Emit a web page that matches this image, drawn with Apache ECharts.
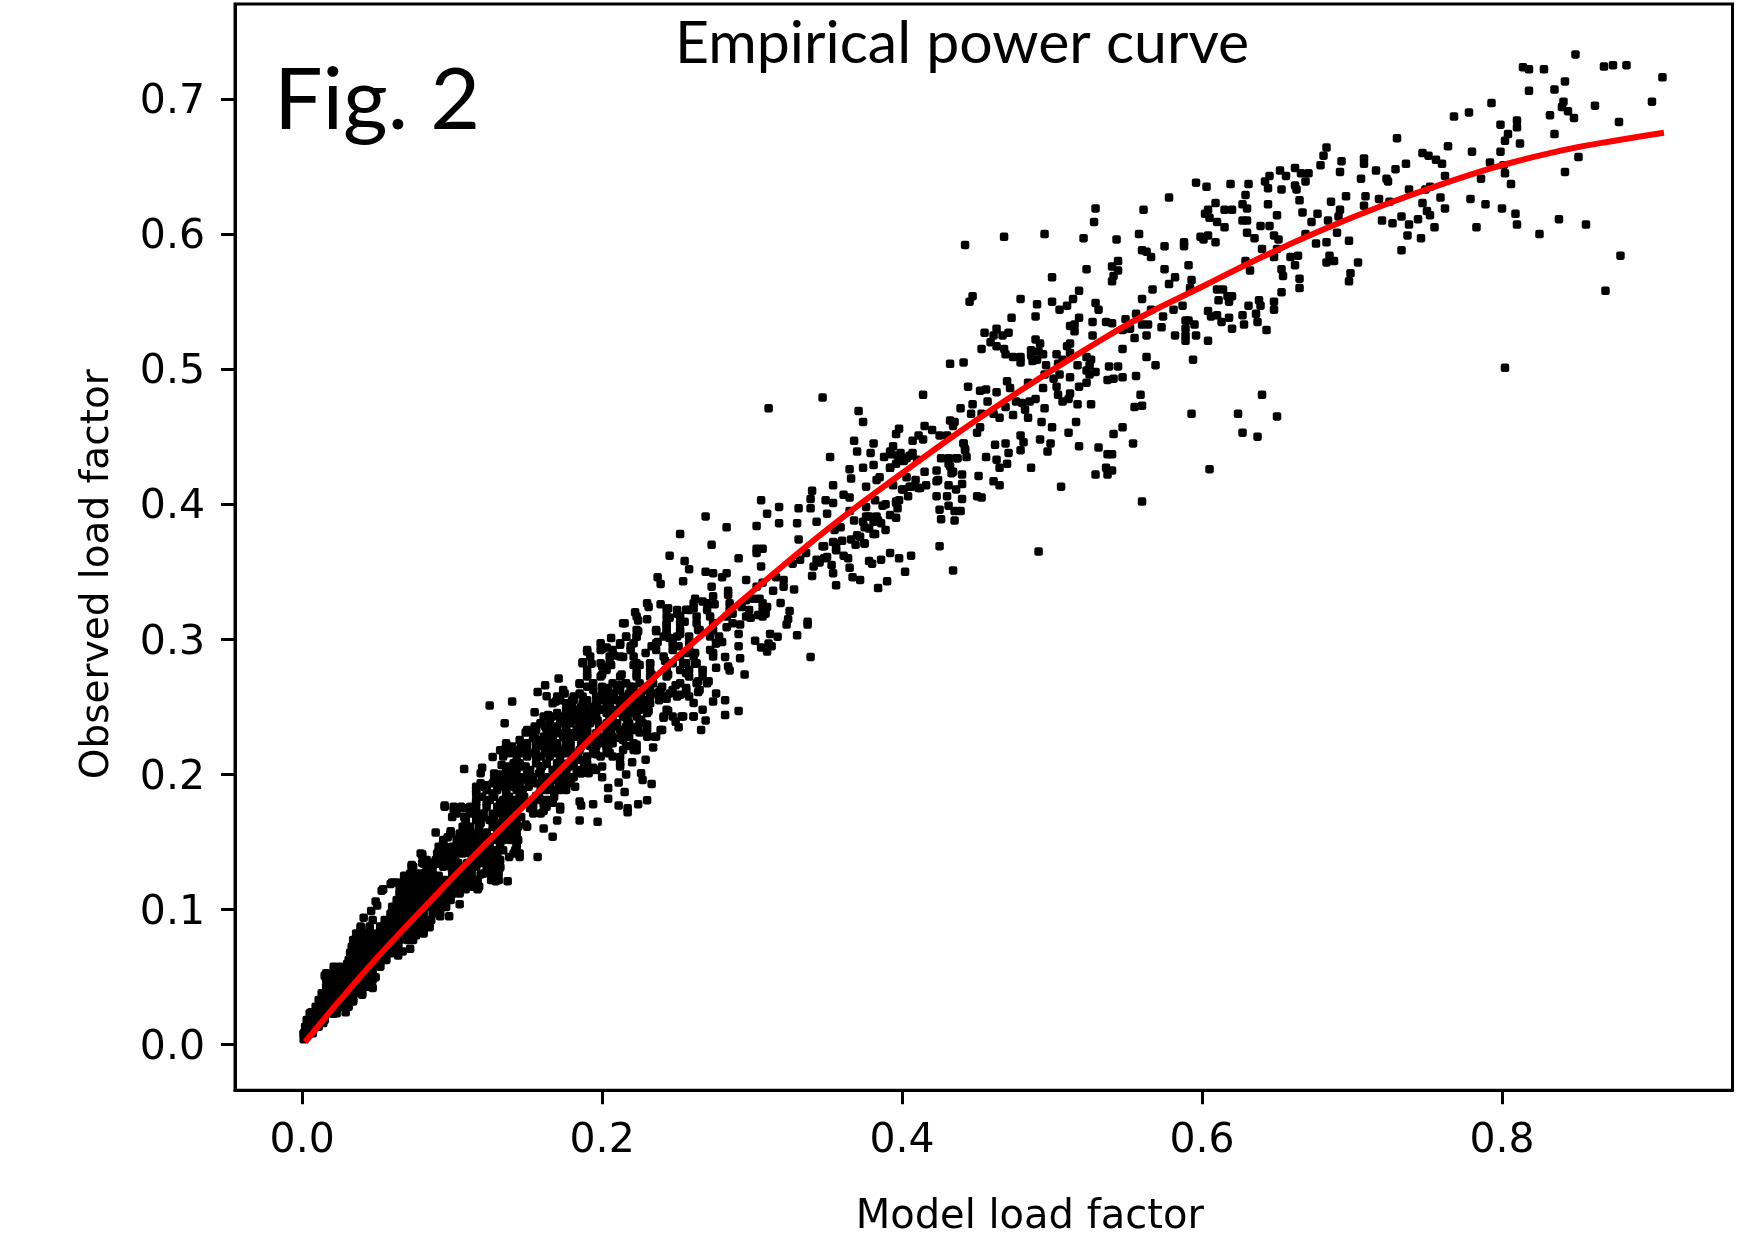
<!DOCTYPE html>
<html>
<head>
<meta charset="utf-8">
<title>Empirical power curve</title>
<script src="https://cdn.jsdelivr.net/npm/echarts@6/dist/echarts.min.js"></script>
<style>
html, body { margin: 0; padding: 0; background: #fff; }
#chart { width: 1749px; height: 1257px; }
</style>
</head>
<body>
<div id="chart"></div>
<script>
// tick labels
const xTicks = [0, 0.2, 0.4, 0.6, 0.8];
const yTicks = [0, 0.1, 0.2, 0.3, 0.4, 0.5, 0.6, 0.7];

// fitted curve
const curveModel = [0.002, 0.04, 0.08, 0.12, 0.16, 0.2, 0.24, 0.28, 0.32, 0.36, 0.4, 0.44, 0.48, 0.52, 0.56, 0.6, 0.64, 0.68, 0.72, 0.76, 0.8, 0.84, 0.88, 0.908];
const curveObserved = [0.002, 0.052, 0.1, 0.146, 0.19, 0.235, 0.277, 0.316, 0.354, 0.39, 0.423, 0.455, 0.485, 0.513, 0.539, 0.561, 0.583, 0.603, 0.621, 0.637, 0.651, 0.662, 0.67, 0.675];

// [model, observed], top right part of the cloud
const pointsHigh = [
[.849,.733],[.814,.7235],[.818,.722],[.828,.722],[.868,.724],[.874,.725],[.883,.725],[.907,.716],[.842,.713],[.835,.707],[.818,.706],[.9,.698],[.841,.698],[.862,.695],[.84,.694],[.844,.691],[.848,.686],[.832,.688],[.793,.697],[.778,.69],[.768,.687],[.81,.684],[.81,.679],[.799,.681],[.878,.683],[.835,.674],[.804,.674],[.802,.669],[.812,.667],[.73,.671],[.764,.665],[.78,.661],[.799,.661],[.851,.657],[.792,.653],[.801,.651],[.802,.645],[.842,.646],[.806,.637],[.786,.641],[.747,.66],[.751,.658],[.756,.655],[.76,.652],[.762,.643],[.736,.652],[.729,.648],[.724,.639],[.723,.641],[.738,.633],[.749,.633],[.752,.635],[.759,.627],[.779,.626],[.789,.622],[.8,.619],[.809,.615],[.81,.607],[.838,.611],[.856,.607],[.825,.6],[.783,.605],[.762,.619],[.755,.605],[.746,.597],[.733,.588],[.737,.599],[.744,.611],[.738,.607],[.733,.613],[.727,.608],[.72,.61],[.747,.623],[.75,.617],[.752,.614],[.725,.624],[.718,.626],[.709,.628],[.708,.621],[.696,.628],[.686,.624],[.692,.618],[.691,.613],[.684,.61],[.677,.615],[.673,.609],[.667,.616],[.665,.625],[.663,.633],[.662,.636],[.653,.633],[.644,.634],[.642,.639],[.645,.643],[.652,.647],[.656,.643],[.662,.649],[.666,.645],[.671,.645],[.669,.639],[.679,.651],[.681,.658],[.683,.664],[.693,.654],[.692,.646],[.708,.656],[.708,.652],[.716,.647],[.706,.641],[.631,.637],[.619,.637],[.603,.635],[.596,.638],[.629,.629],[.578,.627],[.561,.618],[.627,.622],[.63,.619],[.609,.623],[.615,.618],[.62,.618],[.604,.618],[.602,.615],[.605,.612],[.61,.609],[.615,.605],[.627,.61],[.63,.61],[.644,.622],[.65,.614],[.639,.606],[.645,.606],[.648,.599],[.651,.596],[.63,.601],[.635,.597],[.64,.589],[.65,.589],[.669,.6],[.676,.593],[.683,.594],[.698,.595],[.69,.601],[.648,.583],[.659,.583],[.664,.584],[.629,.58],[.632,.573],[.653,.574],[.662,.577],[.685,.584],[.688,.58],[.683,.579],[.704,.579],[.699,.571],[.698,.565],[.665,.567],[.665,.56],[.654,.569],[.653,.557],[.609,.594],[.604,.599],[.599,.598],[.601,.596],[.588,.594],[.588,.591],[.575,.591],[.558,.6],[.543,.596],[.56,.588],[.563,.587],[.566,.583],[.544,.58],[.54,.576],[.544,.573],[.541,.569],[.54,.565],[.575,.574],[.591,.577],[.582,.568],[.578,.563],[.593,.566],[.592,.56],[.567,.559],[.56,.552],[.61,.559],[.614,.559],[.611,.551],[.617,.554],[.62,.554],[.618,.55],[.638,.551],[.631,.547],[.639,.547],[.648,.55],[.648,.544],[.587,.547],[.581,.544],[.566,.544],[.556,.541],[.574,.539],[.549,.537],[.536,.535],[.54,.534],[.564,.533],[.56,.533],[.589,.536],[.591,.536],[.595,.533],[.589,.53],[.573,.531],[.547,.529],[.552,.53],[.604,.543],[.606,.539],[.61,.54],[.613,.535],[.618,.538],[.62,.53],[.627,.54],[.628,.533],[.636,.541],[.637,.535],[.643,.529],[.563,.525],[.555,.523],[.582,.525],[.589,.525],[.589,.521],[.596,.525],[.604,.521],[.547,.515],[.563,.509],[.569,.503],[.594,.507],[.538,.502],[.544,.502],[.556,.495],[.547,.494],[.541,.493],[.537,.492],[.559,.481],[.64,.481],[.802,.501],[.869,.558],[.879,.584]
];

// middle part of the cloud
const pointsMid = [
[.442,.592],[.468,.598],[.495,.6],[.521,.597],[.529,.619],[.528,.609],[.523,.574],[.5,.568],[.518,.558],[.479,.552],[.49,.548],[.5,.55],[.514,.552],[.51,.547],[.505,.544],[.529,.549],[.531,.544],[.447,.554],[.445,.55],[.473,.538],[.489,.539],[.518,.538],[.527,.535],[.515,.533],[.512,.532],[.515,.528],[.455,.527],[.463,.53],[.471,.527],[.461,.525],[.467,.525],[.459,.52],[.453,.515],[.463,.517],[.468,.515],[.469,.511],[.474,.509],[.479,.509],[.479,.505],[.489,.522],[.492,.519],[.486,.514],[.491,.513],[.494,.511],[.486,.51],[.487,.506],[.49,.507],[.503,.511],[.51,.517],[.512,.519],[.512,.512],[.527,.525],[.496,.503],[.432,.504],[.441,.505],[.517,.503],[.507,.507],[.504,.504],[.523,.509],[.526,.507],[.525,.503],[.523,.499],[.529,.498],[.525,.496],[.523,.49],[.518,.487],[.512,.494],[.505,.496],[.501,.493],[.495,.496],[.484,.49],[.494,.486],[.47,.491],[.472,.486],[.444,.487],[.452,.484],[.456,.485],[.463,.483],[.414,.481],[.347,.479],[.504,.481],[.512,.482],[.507,.476],[.511,.478],[.503,.487],[.517,.474],[.526,.474],[.555,.472],[.56,.473],[.593,.467],[.624,.467],[.65,.465],[.627,.453],[.637,.45],[.605,.426],[.56,.402],[.547,.457],[.541,.452],[.516,.461],[.5,.457],[.493,.461],[.495,.471],[.484,.464],[.474,.466],[.465,.464],[.489,.478],[.485,.476],[.48,.475],[.476,.476],[.482,.47],[.469,.472],[.461,.467],[.457,.476],[.447,.474],[.439,.471],[.446,.467],[.453,.467],[.432,.462],[.435,.461],[.434,.458],[.452,.457],[.45,.453],[.415,.458],[.42,.455],[.411,.451],[.407,.447],[.414,.448],[.425,.451],[.43,.451],[.398,.456],[.396,.452],[.371,.469],[.374,.461],[.368,.447],[.381,.445],[.37,.439],[.379,.438],[.394,.443],[.388,.435],[.393,.437],[.399,.438],[.403,.434],[.407,.438],[.396,.43],[.392,.427],[.374,.427],[.381,.429],[.352,.435],[.365,.426],[.366,.419],[.385,.42],[.383,.418],[.354,.414],[.34,.41],[.376,.413],[.394,.414],[.403,.42],[.409,.418],[.415,.424],[.423,.425],[.431,.434],[.426,.434],[.436,.434],[.443,.435],[.441,.445],[.442,.441],[.462,.444],[.469,.445],[.479,.451],[.481,.446],[.492,.448],[.499,.445],[.511,.453],[.518,.443],[.531,.442],[.497,.439],[.479,.44],[.471,.438],[.456,.435],[.463,.433],[.47,.43],[.465,.427],[.486,.427],[.537,.437],[.54,.437],[.554,.445],[.536,.427],[.54,.425],[.537,.422],[.529,.422],[.506,.413],[.451,.421],[.461,.417],[.465,.414],[.45,.406],[.453,.405],[.44,.422],[.44,.415],[.431,.414],[.436,.411],[.433,.423],[.431,.43],[.423,.417],[.416,.414],[.412,.412],[.405,.413],[.4,.411],[.404,.406],[.423,.406],[.43,.406],[.44,.404],[.431,.399],[.425,.396],[.439,.395],[.435,.395],[.426,.389],[.435,.388],[.425,.369],[.491,.365],[.434,.351],[.406,.362],[.398,.36],[.392,.364],[.386,.359],[.378,.358],[.38,.356],[.402,.35],[.39,.343],[.384,.338],[.372,.344],[.367,.346],[.356,.34],[.365,.353],[.364,.36],[.361,.362],[.354,.349],[.353,.355],[.348,.36],[.341,.354],[.34,.347],[.345,.357],[.356,.367],[.36,.373],[.354,.372],[.348,.369],[.336,.364],[.372,.376],[.375,.371],[.369,.37],[.366,.374],[.382,.378],[.389,.381],[.378,.382],[.386,.386],[.383,.391],[.378,.391],[.374,.387],[.368,.388],[.359,.383],[.355,.381],[.343,.387],[.35,.393],[.365,.395],[.376,.398],[.382,.403],[.389,.4],[.396,.402],[.392,.392],[.396,.39],[.397,.397],[.339,.397],[.349,.403],[.354,.401],[.339,.404],[.361,.407],[.365,.405],
[.392,.439],[.397,.436],[.401,.432],[.392,.427],[.405,.436],[.41,.433],[.441,.445],[.442,.44],[.437,.434],[.432,.428],[.434,.424],[.424,.418],[.376,.391],[.381,.387],[.375,.383],[.384,.388],[.381,.378],[.37,.377],[.375,.371],[.347,.369],[.356,.371],[.35,.361],[.356,.366],[.343,.359],[.396,.401],[.398,.403],[.387,.399],[.406,.413],[.411,.412],[.401,.411]
];

// lower middle part
const pointsLowMid = [
[.311,.471],[.269,.391],[.252,.378],[.283,.383],[.303,.384],[.31,.393],[.318,.398],[.306,.403],[.331,.397],[.33,.386],[.318,.386],[.273,.37],[.245,.362],[.255,.358],[.258,.352],[.291,.36],[.303,.367],[.307,.367],[.303,.364],[.306,.354],[.331,.374],[.269,.35],[.274,.349],[.283,.349],[.28,.346],[.296,.344],[.254,.343],[.237,.346],[.239,.341],[.273,.339],[.284,.336],[.284,.333],[.303,.339],[.307,.342],[.327,.356],[.332,.359],[.328,.337],[.321,.344],[.321,.339],[.314,.336],[.316,.346],[.231,.324],[.239,.326],[.222,.32],[.244,.323],[.25,.319],[.256,.322],[.262,.33],[.267,.328],[.274,.332],[.275,.326],[.261,.323],[.245,.316],[.243,.311],[.255,.313],[.23,.315],[.224,.314],[.215,.312],[.224,.306],[.236,.306],[.243,.306],[.252,.304],[.264,.307],[.216,.302],[.206,.301],[.223,.302],[.212,.296],[.2,.293],[.203,.294],[.19,.291],[.219,.295],[.233,.295],[.237,.298],[.251,.295],[.245,.301],[.229,.29],[.214,.287],[.208,.288],[.187,.283],[.193,.282],[.2,.28],[.206,.281],[.221,.281],[.225,.281],[.232,.282],[.242,.284],[.254,.282],[.262,.29],[.257,.29],[.262,.282],[.256,.275],[.267,.277],[.276,.279],[.2,.274],[.19,.274],[.213,.274],[.223,.274],[.233,.274],[.244,.274],[.185,.267],[.171,.271],[.194,.264],[.204,.264],[.212,.266],[.219,.265],[.232,.264],[.238,.261],[.249,.266],[.256,.264],[.264,.269],[.271,.269],[.264,.261],[.276,.26],[.175,.26],[.181,.255],[.169,.254],[.189,.254],[.198,.256],[.206,.255],[.215,.256],[.224,.256],[.243,.256],[.252,.259],[.256,.26],[.261,.253],[.274,.254],[.282,.255],[.267,.248],[.188,.249],[.197,.249],[.205,.248],[.22,.249],[.231,.247],[.244,.247],[.291,.247],[.282,.244],[.261,.243],[.269,.24],[.253,.243],[.241,.242],[.249,.239],[.179,.244],[.172,.243],[.188,.242],[.197,.24],[.205,.242],[.216,.242],[.225,.24],[.23,.237],[.251,.235],[.266,.233],[.176,.237],[.185,.237],[.219,.235],[.319,.327],[.325,.321],[.324,.315],[.323,.311],[.337,.313],[.337,.311],[.33,.303],[.317,.302],[.312,.304],[.311,.297],[.313,.295],[.306,.294],[.31,.291],[.302,.299],[.339,.287],[.291,.295],[.292,.286],[.282,.287],[.284,.28],[.295,.274],[.285,.277],[.276,.297],[.274,.29],[.272,.304],[.28,.298],[.291,.304],[.283,.309],[.292,.311],[.287,.319],[.286,.323],[.299,.316],[.304,.318],[.309,.319],[.31,.324],[.305,.33],[.301,.33],[.296,.329],[.293,.324]
];

// lower band, single points that can be told apart
const pointsLow = [
[.125,.251],[.14,.254],[.135,.238],[.162,.266],[.157,.261],[.163,.258],[.155,.246],[.149,.231],[.164,.244],[.159,.238],[.163,.234],[.154,.227],[.136,.221],[.132,.218],[.127,.213],[.149,.222],[.161,.221],[.156,.213],[.144,.216],[.108,.204],[.12,.205],[.119,.201],[.133,.207],[.139,.203],[.147,.206],[.159,.206],[.163,.208],[.132,.2],[.141,.198],[.15,.199],[.116,.191],[.123,.192],[.132,.192],[.141,.192],[.152,.194],[.161,.195],[.116,.186],[.127,.186],[.136,.186],[.145,.184],[.156,.184],[.165,.189],[.095,.177],[.101,.174],[.108,.175],[.116,.179],[.123,.179],[.132,.179],[.141,.176],[.152,.175],[.161,.173],[.117,.171],[.127,.171],[.137,.169],[.109,.165],[.119,.164],[.13,.164],[.141,.161],[.149,.163],[.089,.157],[.099,.158],[.105,.154],[.112,.159],[.123,.157],[.134,.157],[.161,.16],[.167,.154],[.094,.149],[.103,.147],[.114,.15],[.125,.149],[.139,.152],[.143,.148],[.091,.143],[.101,.139],[.11,.142],[.121,.142],[.13,.144],[.08,.141],[.138,.139],[.145,.139],[.157,.139],[.142,.144],[.131,.137],[.073,.133],[.081,.134],[.09,.134],[.1,.134],[.116,.133],[.124,.133],[.132,.131],[.068,.125],[.074,.126],[.082,.127],[.091,.125],[.119,.126],[.126,.125],[.137,.121],[.129,.121],[.06,.12],[.069,.118],[.076,.119],[.085,.118],[.111,.12],[.117,.115],[.109,.115],[.054,.115],[.065,.113],[.074,.112],[.081,.112],[.1,.113],[.094,.117],
[.17,.166],[.185,.166],[.197,.165],[.185,.18],[.186,.177],[.194,.178],[.204,.182],[.204,.19],[.211,.177],[.217,.175],[.217,.172],[.224,.178],[.23,.181],[.233,.193],[.215,.187],[.211,.194],[.227,.196],[.226,.201],[.216,.2],[.22,.209],[.229,.211],[.223,.218],[.223,.222],[.234,.22],[.212,.206],[.212,.213],[.205,.216],[.2,.198],[.194,.205],[.191,.201],[.182,.191],[.174,.19],[.181,.198],[.172,.174],[.167,.179],[.161,.178],[.174,.208],[.185,.211],[.196,.215],[.192,.221],[.203,.221],[.17,.221],[.216,.221],[.179,.228],[.19,.231],[.203,.228],[.212,.227],[.225,.231],[.235,.228],[.24,.233],
[.041,.094],[.049,.106],[.046,.099],[.05,.103],[.053,.114],[.059,.119],[.063,.12],[.068,.124],[.073,.132],[.08,.14],[.105,.104],[.098,.095],[.092,.095],[.085,.087],[.072,.071],[.067,.069],[.064,.066],[.059,.096],[.066,.113],[.072,.107],[.079,.119],[.088,.107],[.096,.102],[.079,.097],[.068,.097],[.075,.11],[.093,.112],[.039,.086],[.045,.086],[.054,.087],[.063,.09],[.072,.09],[.081,.085],[.035,.077],[.043,.077],[.052,.077],[.061,.08],[.07,.08],[.076,.081],[.032,.068],[.041,.07],[.056,.07],[.064,.073],[.03,.06],[.039,.06],[.052,.058],[.056,.063],[.015,.051],[.022,.056],[.029,.055],[.037,.053],[.049,.05],[.019,.044],[.026,.047],[.034,.045],[.047,.042],[.015,.038],[.023,.038],[.031,.038],[.04,.037],[.012,.032],[.021,.031],[.029,.031],[.034,.032],[.029,.024],[.006,.024],[.013,.024],[.021,.023],[.004,.018],[.009,.017],[.014,.016],[.002,.013],[.007,.011],[.001,.008],[.003,.006],[.001,.004]
];

const denseRows = [
[.0084,[.001,.004,.007]],
[.0133,[.002,.006,.011]],
[.0183,[.003,.007,.012,.015]],
[.0232,[.005,.01,.014,.018,.023]],
[.0281,[.009,.013,.017,.022,.026,.031]],
[.0331,[.011,.015,.02,.024,.029,.034]],
[.038,[.013,.017,.022,.026,.031,.035,.04]],
[.0429,[.016,.021,.025,.03,.034,.039,.044,.046]],
[.0479,[.016,.021,.025,.03,.034,.039,.043,.047]],
[.0528,[.016,.021,.025,.03,.034,.039,.043,.047]],
[.0577,[.021,.025,.03,.034,.039,.043,.047,.052]],
[.0627,[.031,.035,.04,.044,.049,.053,.056]],
[.0676,[.032,.036,.041,.045,.05,.054,.059,.063]],
[.0725,[.033,.037,.042,.046,.051,.055,.06,.064]],
[.0775,[.034,.039,.043,.047,.052,.056,.061,.065,.07,.074]],
[.0824,[.036,.041,.045,.05,.054,.059,.063,.068,.072,.076,.081]],
[.0874,[.039,.045,.052,.056,.061,.065,.07,.074,.079,.083]],
[.0923,[.047,.055,.06,.064,.069,.073,.078,.082,.086]],
[.0972,[.059,.063,.068,.072,.076,.081,.087,.092]],
[.1022,[.06,.064,.069,.073,.078,.082,.086,.091,.095]],
[.1071,[.063,.068,.072,.076,.081,.085,.09,.094,.099]],
[.112,[.065,.07,.074,.079,.083,.088,.092,.096,.101,.105]],
[.117,[.065,.07,.074,.079,.083,.088,.092,.096,.101,.105,.11,.114,.118]],
[.1219,[.068,.073,.078,.082,.086,.091,.095,.1,.104,.109,.113,.117,.126,.131]],
[.1268,[.072,.078,.082,.087,.1,.104,.109,.113,.121,.126,.131]],
[.1318,[.074,.083,.087,.094,.099,.103,.107,.112,.116,.123,.127,.132]],
[.1345,[.08,.086,.092,.104,.11,.12,.128]],
[.1367,[.083,.089,.093,.097,.102,.114,.118,.123,.127,.132]],
[.1416,[.079,.09,.094,.099,.103,.107,.112,.116,.121,.125,.13,.141,.145]],
[.144,[.092,.1,.106,.112,.12,.128,.134]],
[.1466,[.091,.095,.1,.104,.109,.113,.118,.123,.132,.143]],
[.1515,[.094,.103,.107,.112,.116,.121,.125,.13,.134,.139,.144]],
[.1535,[.097,.108,.118,.126,.136]],
[.1564,[.099,.105,.11,.114,.118,.123,.13,.134,.139,.143]],
[.1614,[.107,.112,.118,.127,.132,.136,.141,.144,.15]],
[.1663,[.109,.116,.125,.134,.139,.143]],
[.1685,[.1,.108,.12,.128,.136,.146]],
[.1712,[.103,.112,.116,.121,.13,.134,.139,.143,.154,.159]],
[.1762,[.095,.101,.106,.112,.116,.123,.13,.134,.139,.145,.154,.163,.172]],
[.1811,[.116,.125,.134,.139,.143,.147,.154,.159,.163,.167]],
[.1835,[.12,.128,.138,.148,.158,.168]],
[.1886,[.116,.123,.13,.136,.143,.147,.159,.163,.167,.172,.176]],
[.191,[.121,.131,.141,.151,.161,.171]],
[.1935,[.119,.127,.136,.145,.156,.165,.174,.179]],
[.196,[.128,.14,.15,.16,.17,.177]],
[.198,[.132,.136,.145,.154,.163,.172,.179]],
[.2008,[.128,.14,.15,.158,.168,.176,.186]],
[.2034,[.136,.143,.152,.159,.167,.176,.183,.192,.196]],
[.206,[.137,.149,.16,.17,.178,.188,.2]],
[.2083,[.141,.145,.156,.163,.17,.181,.19,.212]],
[.2133,[.134,.143,.15,.159,.165,.172,.181,.19,.199,.207]],
[.2158,[.138,.146,.155,.162,.168,.176,.184,.194,.204]],
[.2182,[.134,.141,.15,.156,.163,.172,.179,.185,.194,.203,.214,.221]],
[.2207,[.14,.146,.156,.166,.176,.186,.196,.204]],
[.2231,[.136,.15,.161,.17,.179,.19,.199,.207,.221]],
[.2255,[.145,.156,.166,.176,.186,.196,.204,.214]],
[.228,[.154,.161,.167,.174,.183,.19,.199,.207,.218,.23,.236]],
[.2305,[.155,.165,.172,.18,.188,.196,.206,.216]],
[.233,[.15,.156,.163,.17,.176,.183,.19,.203,.212,.221,.23,.239]],
[.2355,[.155,.162,.168,.176,.188,.198,.208,.216,.224]],
[.238,[.159,.165,.172,.179,.185,.192,.203,.21,.218,.227]],
[.2405,[.165,.175,.182,.188,.195,.207,.217,.226]],
[.243,[.161,.167,.176,.183,.19,.196,.205,.214,.223,.241,.247,.254,.261]],
[.2455,[.17,.18,.186,.194,.203,.21,.22,.23]],
[.248,[.176,.183,.19,.199,.207,.216,.225,.243]],
[.25,[.18,.186,.194,.203,.212,.22,.228]],
[.2527,[.167,.176,.187,.196,.205,.214,.223,.232]],
[.255,[.172,.18,.19,.2,.21,.218,.228,.238]],
[.2577,[.17,.181,.187,.196,.205,.214,.223,.232,.241,.25,.258]],
[.26,[.185,.2,.208,.218,.226,.236,.245]],
[.2626,[.174,.194,.203,.212,.221,.23,.239,.247,.256,.265]],
[.265,[.19,.2,.21,.22,.23,.24]],
[.2675,[.185,.194,.207,.216,.225,.234,.252,.263,.27]],
[.2725,[.19,.199,.212,.223,.232,.243,.258,.267]],
[.2774,[.19,.203,.223,.232,.243,.252,.258,.267]],
[.2823,[.187,.199,.205,.223,.232,.247,.256,.263]],
[.2873,[.192,.205,.212,.221,.241,.252,.261,.274]],
[.2922,[.19,.199,.207,.219,.236,.247,.258,.272]],
[.2971,[.199,.212,.221,.236,.247,.258,.276]],
[.3021,[.216,.223,.241,.25,.258,.272,.278]],
[.307,[.223,.236,.243,.252,.265,.274]],
[.3119,[.214,.243,.252,.263,.274,.287]],
[.3169,[.223,.243,.252,.263,.272,.283,.296,.307]],
[.3218,[.243,.25,.258,.27,.285,.298,.307]],
[.3267,[.23,.261,.27,.285,.307]]
];

const chart = echarts.init(document.getElementById('chart'));

const curveData = curveModel.map((m, i) => [m, curveObserved[i]]);
const denseData = denseRows.flatMap(([o, models]) => models.map(m => [m, o]));
const scatterData = [...pointsHigh, ...pointsMid, ...pointsLowMid, ...pointsLow, ...denseData];

const tickFont = { fontFamily: 'DejaVu Sans', fontSize: 41, color: '#000' };

chart.setOption({
    animation: false,
    backgroundColor: '#fff',
    title: [
        {
            text: 'Empirical power curve',
            left: 670,
            top: 9,
            textStyle: { fontFamily: 'Lato', fontWeight: 'normal', fontSize: 59, color: '#000' }
        },
        {
            text: 'Fig. 2',
            left: 269,
            top: 53,
            textStyle: { fontFamily: 'Lato', fontWeight: 'normal', fontSize: 86, color: '#000' }
        }
    ],
    grid: {
        show: true,
        left: 235,
        right: 16.5,
        top: 4,
        bottom: 166.7,
        borderColor: '#000',
        borderWidth: 3,
        backgroundColor: 'transparent'
    },
    xAxis: {
        type: 'value',
        min: -0.0448,
        max: 0.9537,
        splitLine: { show: false },
        axisLine: { show: true, onZero: false, lineStyle: { color: '#000', width: 3 } },
        axisTick: { show: true, length: 14, customValues: xTicks, lineStyle: { color: '#000', width: 3 } },
        axisLabel: { ...tickFont, margin: 31, customValues: xTicks, formatter: v => v.toFixed(1) },
        name: 'Model load factor',
        nameLocation: 'middle',
        nameGap: 107,
        nameTextStyle: { fontFamily: 'DejaVu Sans', fontSize: 40, color: '#000', padding: [0, 0, 0, 92] }
    },
    yAxis: {
        type: 'value',
        min: -0.03375,
        max: 0.7703,
        splitLine: { show: false },
        axisLine: { show: true, onZero: false, lineStyle: { color: '#000', width: 3 } },
        axisTick: { show: true, length: 14, customValues: yTicks, lineStyle: { color: '#000', width: 3 } },
        axisLabel: {
            ...tickFont,
            margin: 30,
            customValues: yTicks,
            formatter: v => `{t|${v.toFixed(1)}}`,
            rich: { t: { ...tickFont, padding: [7, 0, 0, 0] } }
        },
        name: 'Observed load factor',
        nameLocation: 'middle',
        nameGap: 118,
        nameTextStyle: { fontFamily: 'DejaVu Sans', fontSize: 39, color: '#000', padding: [0, 54, 0, 0] }
    },
    series: [
        {
            name: 'observed',
            type: 'scatter',
            symbol: 'roundRect',
            symbolSize: 8.5,
            itemStyle: { color: '#000', opacity: 1 },
            data: scatterData,
            z: 2
        },
        {
            name: 'fit',
            type: 'line',
            data: curveData,
            showSymbol: false,
            smooth: true,
            lineStyle: { color: '#f00', width: 6 },
            z: 3
        }
    ]
});
</script>
</body>
</html>
